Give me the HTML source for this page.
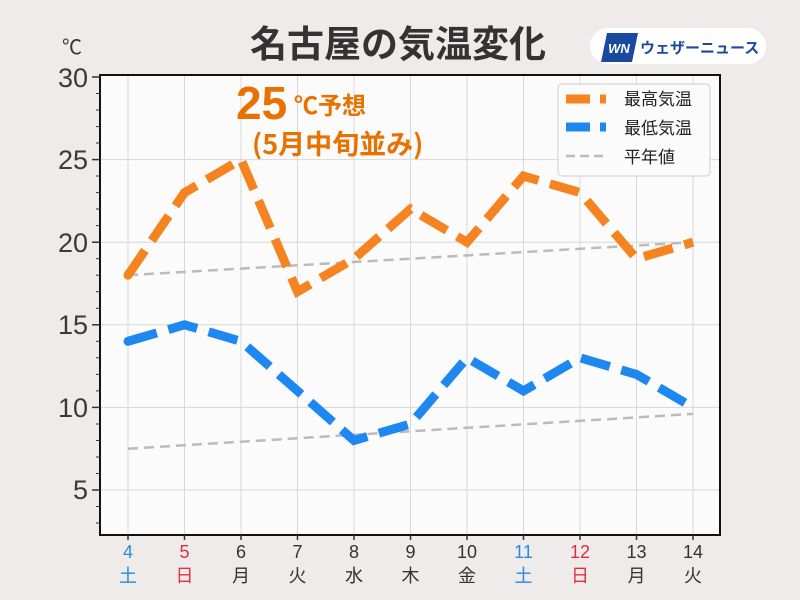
<!DOCTYPE html>
<html><head><meta charset="utf-8"><style>
body{margin:0;background:#eeebea;}
svg{display:block;font-family:"Liberation Sans","Noto Sans CJK JP",sans-serif;}
</style></head><body>
<svg width="800" height="600" viewBox="0 0 800 600" xmlns="http://www.w3.org/2000/svg">
<rect width="800" height="600" fill="#eeebea"/>
<text x="398" y="57" font-size="37" font-weight="bold" fill="#333" text-anchor="middle" font-family="Noto Sans CJK JP,sans-serif">名古屋の気温変化</text>
<rect x="590" y="28" width="176" height="36" rx="18" fill="#fff"/>
<polygon points="607,33 638,33 632,62 601,62" fill="#1a4aa0"/>
<text x="619" y="53" font-size="13" font-weight="bold" font-style="italic" fill="#fff" text-anchor="middle">WN</text>
<text x="640" y="53" font-size="15" font-weight="bold" fill="#1a4aa0" font-family="Noto Sans CJK JP,sans-serif">ウェザーニュース</text>
<rect x="100" y="75" width="620" height="460" fill="#fcfbfb"/>
<g stroke="#d8d8d8" stroke-width="1">
<line x1="128" y1="75" x2="128" y2="535"/><line x1="184.5" y1="75" x2="184.5" y2="535"/><line x1="241" y1="75" x2="241" y2="535"/><line x1="297.5" y1="75" x2="297.5" y2="535"/><line x1="354" y1="75" x2="354" y2="535"/><line x1="410.5" y1="75" x2="410.5" y2="535"/><line x1="467" y1="75" x2="467" y2="535"/><line x1="523.5" y1="75" x2="523.5" y2="535"/><line x1="580" y1="75" x2="580" y2="535"/><line x1="636.5" y1="75" x2="636.5" y2="535"/><line x1="693" y1="75" x2="693" y2="535"/>
<line x1="100" y1="159.6" x2="720" y2="159.6"/><line x1="100" y1="242.2" x2="720" y2="242.2"/><line x1="100" y1="324.8" x2="720" y2="324.8"/><line x1="100" y1="407.4" x2="720" y2="407.4"/><line x1="100" y1="490" x2="720" y2="490"/>
</g>
<rect x="100" y="75" width="620" height="460" fill="none" stroke="#111" stroke-width="2"/>
<g stroke="#333" stroke-width="1.5">
<line x1="92" y1="77" x2="100" y2="77"/><line x1="92" y1="159.6" x2="100" y2="159.6"/><line x1="92" y1="242.2" x2="100" y2="242.2"/><line x1="92" y1="324.8" x2="100" y2="324.8"/><line x1="92" y1="407.4" x2="100" y2="407.4"/><line x1="92" y1="490" x2="100" y2="490"/>
</g>
<g stroke="#333" stroke-width="1">
<line x1="96" y1="93.5" x2="100" y2="93.5"/><line x1="96" y1="110" x2="100" y2="110"/><line x1="96" y1="126.6" x2="100" y2="126.6"/><line x1="96" y1="143" x2="100" y2="143"/>
<line x1="96" y1="176" x2="100" y2="176"/><line x1="96" y1="192.6" x2="100" y2="192.6"/><line x1="96" y1="209" x2="100" y2="209"/><line x1="96" y1="225.6" x2="100" y2="225.6"/>
<line x1="96" y1="258.7" x2="100" y2="258.7"/><line x1="96" y1="275.2" x2="100" y2="275.2"/><line x1="96" y1="291.7" x2="100" y2="291.7"/><line x1="96" y1="308.3" x2="100" y2="308.3"/>
<line x1="96" y1="341.3" x2="100" y2="341.3"/><line x1="96" y1="357.8" x2="100" y2="357.8"/><line x1="96" y1="374.4" x2="100" y2="374.4"/><line x1="96" y1="390.9" x2="100" y2="390.9"/>
<line x1="96" y1="424" x2="100" y2="424"/><line x1="96" y1="440.5" x2="100" y2="440.5"/><line x1="96" y1="457" x2="100" y2="457"/><line x1="96" y1="473.5" x2="100" y2="473.5"/>
<line x1="96" y1="506.5" x2="100" y2="506.5"/><line x1="96" y1="523" x2="100" y2="523"/>
</g>
<g font-size="27" fill="#3a3a3a" text-anchor="end">
<text x="88" y="87">30</text><text x="88" y="169">25</text><text x="88" y="252">20</text><text x="88" y="334">15</text><text x="88" y="417">10</text><text x="88" y="499">5</text>
</g>
<text x="62" y="54" font-size="20" fill="#333" font-family="Noto Sans CJK JP,sans-serif">℃</text>
<line x1="128" y1="275.2" x2="693" y2="242.2" stroke="#bbb" stroke-width="2.5" stroke-dasharray="10,6"/>
<line x1="128" y1="448.7" x2="693" y2="413.9" stroke="#bbb" stroke-width="2.5" stroke-dasharray="10,6"/>
<polyline fill="none" stroke="#f5831f" stroke-width="9" stroke-dasharray="30,12" points="128,275.2 184.5,192.6 241,159.6 297.5,291.7 354,258.7 410.5,209 467,242.2 523.5,176 580,192.6 636.5,258.7 693,242.2"/>
<circle cx="128" cy="275.2" r="4.5" fill="#f5831f"/>
<polyline fill="none" stroke="#1e88f0" stroke-width="9" stroke-dasharray="30,12" points="128,341.3 184.5,324.8 241,341.3 297.5,390.9 354,440.5 410.5,424 467,357.8 523.5,390.9 580,357.8 636.5,374.4 693,407.4"/>
<circle cx="128" cy="341.3" r="4.5" fill="#1e88f0"/>
<text x="236" y="119" font-size="46" font-weight="bold" fill="#e87200">25</text>
<text x="294" y="114" font-size="24" font-weight="bold" fill="#e87200" font-family="Noto Sans CJK JP,sans-serif">℃予想</text>
<text x="252" y="154" font-size="27" font-weight="bold" fill="#e87200" font-family="Noto Sans CJK JP,sans-serif">(5月中旬並み)</text>
<rect x="558" y="84" width="152" height="92" rx="4" fill="#fcfbfb" stroke="#ccc"/>
<line x1="566" y1="99" x2="606" y2="99" stroke="#f5831f" stroke-width="9" stroke-dasharray="24,10"/>
<line x1="566" y1="127" x2="606" y2="127" stroke="#1e88f0" stroke-width="9" stroke-dasharray="24,10"/>
<line x1="566" y1="156" x2="606" y2="156" stroke="#bbb" stroke-width="2.5" stroke-dasharray="9,5"/>
<g font-size="17" fill="#222" font-family="Noto Sans CJK JP,sans-serif">
<text x="624" y="105">最高気温</text><text x="624" y="134">最低気温</text><text x="624" y="163">平年値</text>
</g>
<g stroke="#333" stroke-width="1.5">
<line x1="128" y1="535" x2="128" y2="540"/><line x1="184.5" y1="535" x2="184.5" y2="540"/><line x1="241" y1="535" x2="241" y2="540"/><line x1="297.5" y1="535" x2="297.5" y2="540"/><line x1="354" y1="535" x2="354" y2="540"/><line x1="410.5" y1="535" x2="410.5" y2="540"/><line x1="467" y1="535" x2="467" y2="540"/><line x1="523.5" y1="535" x2="523.5" y2="540"/><line x1="580" y1="535" x2="580" y2="540"/><line x1="636.5" y1="535" x2="636.5" y2="540"/><line x1="693" y1="535" x2="693" y2="540"/>
</g>
<g font-size="18" text-anchor="middle" font-family="Liberation Sans,Noto Sans CJK JP,sans-serif">
<text x="128" y="558" fill="#2a8ae0">4</text><text x="184.5" y="558" fill="#e0303a">5</text><text x="241" y="558" fill="#333">6</text><text x="297.5" y="558" fill="#333">7</text><text x="354" y="558" fill="#333">8</text><text x="410.5" y="558" fill="#333">9</text><text x="467" y="558" fill="#333">10</text><text x="523.5" y="558" fill="#2a8ae0">11</text><text x="580" y="558" fill="#e0303a">12</text><text x="636.5" y="558" fill="#333">13</text><text x="693" y="558" fill="#333">14</text>
<text x="128" y="582" fill="#2a8ae0">土</text><text x="184.5" y="582" fill="#e0303a">日</text><text x="241" y="582" fill="#333">月</text><text x="297.5" y="582" fill="#333">火</text><text x="354" y="582" fill="#333">水</text><text x="410.5" y="582" fill="#333">木</text><text x="467" y="582" fill="#333">金</text><text x="523.5" y="582" fill="#2a8ae0">土</text><text x="580" y="582" fill="#e0303a">日</text><text x="636.5" y="582" fill="#333">月</text><text x="693" y="582" fill="#333">火</text>
</g>
</svg>
</body></html>
